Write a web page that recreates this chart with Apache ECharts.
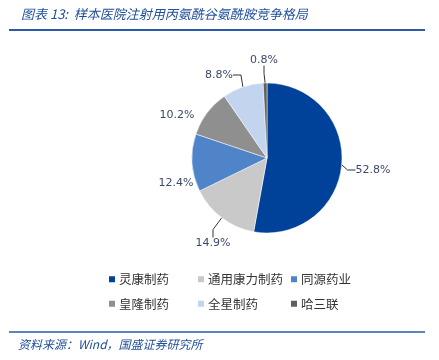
<!DOCTYPE html>
<html><head><meta charset="utf-8">
<script src="https://cdn.jsdelivr.net/npm/echarts@6/dist/echarts.min.js"></script>
<style>html,body{margin:0;padding:0;background:#fff}#c{width:439px;height:360px}</style>
</head><body><div id="c"></div>
<script>
const categories = ['灵康制药','通用康力制药','同源药业','皇隆制药','全星制药','哈三联'];
const values = [52.8, 14.9, 12.4, 10.2, 8.8, 0.8];
const colors = ['#00419a','#c9c9c9','#4f85c8','#8f8f8f','#c2d4ee','#5f5f5f'];
const titleText = '图表 13:  样本医院注射用丙氨酰谷氨酰胺竞争格局';
const sourceText = '资料来源：Wind，国盛证券研究所';

// label offsets relative to pie center (style/layout only)
const labelOffsets = [[106, 12], [-54, 85], [-91, 25], [-90, -43], [-48, -83], [-3, -98]];
const showLine = [true, true, false, false, true, true];
const CX = 267, CY = 158;

const chart = echarts.init(document.getElementById('c'));
const legendCommon = {
  orient: 'vertical', itemWidth: 8, itemHeight: 8, itemGap: 12, icon: 'rect',
  textStyle: { fontSize: 12.5, color: '#333', fontFamily: 'Noto Sans CJK SC', padding: [0, 0, 0, -2] }
};
chart.setOption({
  animation: false,
  color: colors,
  title: {
    text: titleText, left: 16, top: 3,
    textStyle: { fontSize: 13, fontStyle: 'italic', fontWeight: 'normal', color: '#1f4e9c', fontFamily: 'Noto Sans CJK SC' }
  },
  graphic: [
    { type: 'line', shape: { x1: 9, y1: 30, x2: 425, y2: 30 }, style: { stroke: '#2a5aa8', lineWidth: 2 } },
    { type: 'line', shape: { x1: 9, y1: 332, x2: 425, y2: 332 }, style: { stroke: '#2a5aa8', lineWidth: 1.5 } },
    { type: 'text', left: 18, top: 338, style: { text: sourceText, fontSize: 12, fontStyle: 'italic', fill: '#1f4e9c', fontFamily: 'Noto Sans CJK SC' } }
  ],
  legend: [
    Object.assign({}, legendCommon, { left: 102, top: 268, data: [categories[0], categories[3]] }),
    Object.assign({}, legendCommon, { left: 191, top: 268, data: [categories[1], categories[4]] }),
    Object.assign({}, legendCommon, { left: 284, top: 268, data: [categories[2], categories[5]] })
  ],
  series: [{
    type: 'pie',
    center: [CX, CY],
    radius: 75,
    startAngle: 90,
    clockwise: true,
    data: categories.map((n, i) => ({ name: n, value: values[i], labelLine: { show: showLine[i] } })),
    itemStyle: { borderColor: '#fff', borderWidth: 0.5 },
    label: {
      show: true, formatter: p => p.value.toFixed(1) + '%',
      fontSize: 11, color: '#3b4a6b', fontFamily: 'DejaVu Sans'
    },
    labelLine: { show: true, length: 6, length2: 8, lineStyle: { color: '#333', width: 1 } },
    labelLayout: function (params) {
      const o = labelOffsets[params.dataIndex];
      return { x: CX + o[0], y: CY + o[1], align: 'center', verticalAlign: 'middle' };
    }
  }]
});
</script></body></html>
